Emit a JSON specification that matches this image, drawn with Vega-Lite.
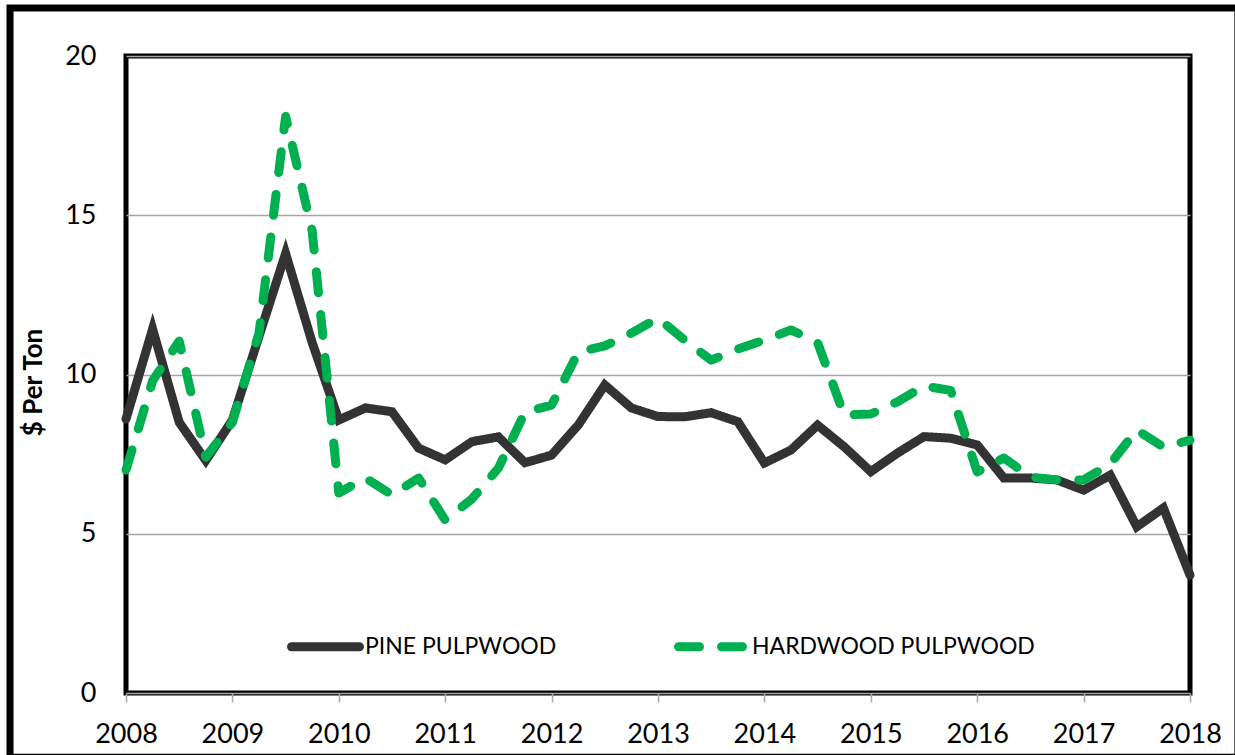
{
  "$schema": "https://vega.github.io/schema/vega-lite/v6.json",
  "autosize": "none",
  "width": 1064,
  "height": 637,
  "padding": {"left": 126, "top": 56, "right": 45, "bottom": 62},
  "background": "white",
  "config": {
    "view": {"stroke": "#000000", "strokeWidth": 5},
    "font": "Lato"
  },
  "layer": [
    {
      "data": {"values": [{}]},
      "mark": {"type": "rect", "fill": null, "stroke": "#000000", "strokeWidth": 7, "clip": false},
      "encoding": {
        "x": {"datum": 2006.91, "type": "quantitative"},
        "x2": {"datum": 2018.45},
        "y": {"datum": 21.51, "type": "quantitative"},
        "y2": {"datum": -2.02}
      }
    },
    {
      "data": {
        "values": [
          {"t": 2008.00, "series": "PINE PULPWOOD", "v": 8.6},
          {"t": 2008.25, "series": "PINE PULPWOOD", "v": 11.43},
          {"t": 2008.50, "series": "PINE PULPWOOD", "v": 8.5},
          {"t": 2008.75, "series": "PINE PULPWOOD", "v": 7.3},
          {"t": 2009.00, "series": "PINE PULPWOOD", "v": 8.57},
          {"t": 2009.25, "series": "PINE PULPWOOD", "v": 11.2},
          {"t": 2009.50, "series": "PINE PULPWOOD", "v": 13.8},
          {"t": 2009.75, "series": "PINE PULPWOOD", "v": 11.0},
          {"t": 2010.00, "series": "PINE PULPWOOD", "v": 8.57},
          {"t": 2010.25, "series": "PINE PULPWOOD", "v": 8.95},
          {"t": 2010.50, "series": "PINE PULPWOOD", "v": 8.83},
          {"t": 2010.75, "series": "PINE PULPWOOD", "v": 7.69},
          {"t": 2011.00, "series": "PINE PULPWOOD", "v": 7.32},
          {"t": 2011.25, "series": "PINE PULPWOOD", "v": 7.89},
          {"t": 2011.50, "series": "PINE PULPWOOD", "v": 8.04},
          {"t": 2011.75, "series": "PINE PULPWOOD", "v": 7.23},
          {"t": 2012.00, "series": "PINE PULPWOOD", "v": 7.47},
          {"t": 2012.25, "series": "PINE PULPWOOD", "v": 8.41},
          {"t": 2012.50, "series": "PINE PULPWOOD", "v": 9.67},
          {"t": 2012.75, "series": "PINE PULPWOOD", "v": 8.95},
          {"t": 2013.00, "series": "PINE PULPWOOD", "v": 8.68},
          {"t": 2013.25, "series": "PINE PULPWOOD", "v": 8.67},
          {"t": 2013.50, "series": "PINE PULPWOOD", "v": 8.8},
          {"t": 2013.75, "series": "PINE PULPWOOD", "v": 8.52},
          {"t": 2014.00, "series": "PINE PULPWOOD", "v": 7.22},
          {"t": 2014.25, "series": "PINE PULPWOOD", "v": 7.63},
          {"t": 2014.50, "series": "PINE PULPWOOD", "v": 8.41},
          {"t": 2014.75, "series": "PINE PULPWOOD", "v": 7.73},
          {"t": 2015.00, "series": "PINE PULPWOOD", "v": 6.95},
          {"t": 2015.25, "series": "PINE PULPWOOD", "v": 7.53},
          {"t": 2015.50, "series": "PINE PULPWOOD", "v": 8.05},
          {"t": 2015.75, "series": "PINE PULPWOOD", "v": 8.0},
          {"t": 2016.00, "series": "PINE PULPWOOD", "v": 7.79},
          {"t": 2016.25, "series": "PINE PULPWOOD", "v": 6.75},
          {"t": 2016.50, "series": "PINE PULPWOOD", "v": 6.75},
          {"t": 2016.75, "series": "PINE PULPWOOD", "v": 6.69},
          {"t": 2017.00, "series": "PINE PULPWOOD", "v": 6.37},
          {"t": 2017.25, "series": "PINE PULPWOOD", "v": 6.84},
          {"t": 2017.50, "series": "PINE PULPWOOD", "v": 5.22},
          {"t": 2017.75, "series": "PINE PULPWOOD", "v": 5.81},
          {"t": 2018.00, "series": "PINE PULPWOOD", "v": 3.7},
          {"t": 2008.00, "series": "HARDWOOD PULPWOOD", "v": 7.0},
          {"t": 2008.25, "series": "HARDWOOD PULPWOOD", "v": 9.8},
          {"t": 2008.50, "series": "HARDWOOD PULPWOOD", "v": 11.05},
          {"t": 2008.75, "series": "HARDWOOD PULPWOOD", "v": 7.4},
          {"t": 2009.00, "series": "HARDWOOD PULPWOOD", "v": 8.5},
          {"t": 2009.25, "series": "HARDWOOD PULPWOOD", "v": 11.3},
          {"t": 2009.50, "series": "HARDWOOD PULPWOOD", "v": 18.1},
          {"t": 2009.75, "series": "HARDWOOD PULPWOOD", "v": 14.5},
          {"t": 2010.00, "series": "HARDWOOD PULPWOOD", "v": 6.28},
          {"t": 2010.25, "series": "HARDWOOD PULPWOOD", "v": 6.75},
          {"t": 2010.50, "series": "HARDWOOD PULPWOOD", "v": 6.22},
          {"t": 2010.75, "series": "HARDWOOD PULPWOOD", "v": 6.75},
          {"t": 2011.00, "series": "HARDWOOD PULPWOOD", "v": 5.43},
          {"t": 2011.25, "series": "HARDWOOD PULPWOOD", "v": 6.09},
          {"t": 2011.50, "series": "HARDWOOD PULPWOOD", "v": 7.06},
          {"t": 2011.75, "series": "HARDWOOD PULPWOOD", "v": 8.82},
          {"t": 2012.00, "series": "HARDWOOD PULPWOOD", "v": 9.04},
          {"t": 2012.25, "series": "HARDWOOD PULPWOOD", "v": 10.7},
          {"t": 2012.50, "series": "HARDWOOD PULPWOOD", "v": 10.9},
          {"t": 2012.75, "series": "HARDWOOD PULPWOOD", "v": 11.3},
          {"t": 2013.00, "series": "HARDWOOD PULPWOOD", "v": 11.77},
          {"t": 2013.25, "series": "HARDWOOD PULPWOOD", "v": 11.08},
          {"t": 2013.50, "series": "HARDWOOD PULPWOOD", "v": 10.45},
          {"t": 2013.75, "series": "HARDWOOD PULPWOOD", "v": 10.8},
          {"t": 2014.00, "series": "HARDWOOD PULPWOOD", "v": 11.08},
          {"t": 2014.25, "series": "HARDWOOD PULPWOOD", "v": 11.4},
          {"t": 2014.50, "series": "HARDWOOD PULPWOOD", "v": 11.0},
          {"t": 2014.75, "series": "HARDWOOD PULPWOOD", "v": 8.73},
          {"t": 2015.00, "series": "HARDWOOD PULPWOOD", "v": 8.76},
          {"t": 2015.25, "series": "HARDWOOD PULPWOOD", "v": 9.14},
          {"t": 2015.50, "series": "HARDWOOD PULPWOOD", "v": 9.64},
          {"t": 2015.75, "series": "HARDWOOD PULPWOOD", "v": 9.5},
          {"t": 2016.00, "series": "HARDWOOD PULPWOOD", "v": 6.94},
          {"t": 2016.25, "series": "HARDWOOD PULPWOOD", "v": 7.38},
          {"t": 2016.50, "series": "HARDWOOD PULPWOOD", "v": 6.78},
          {"t": 2016.75, "series": "HARDWOOD PULPWOOD", "v": 6.69},
          {"t": 2017.00, "series": "HARDWOOD PULPWOOD", "v": 6.69},
          {"t": 2017.25, "series": "HARDWOOD PULPWOOD", "v": 7.19},
          {"t": 2017.50, "series": "HARDWOOD PULPWOOD", "v": 8.26},
          {"t": 2017.75, "series": "HARDWOOD PULPWOOD", "v": 7.72},
          {"t": 2018.00, "series": "HARDWOOD PULPWOOD", "v": 7.94}
        ]
      },
      "encoding": {
        "x": {
          "field": "t",
          "type": "quantitative",
          "scale": {"domain": [2008, 2018], "nice": false, "zero": false},
          "axis": {
            "title": null,
            "values": [2008, 2009, 2010, 2011, 2012, 2013, 2014, 2015, 2016, 2017, 2018],
            "format": "d",
            "grid": false,
            "domain": false,
            "ticks": true,
            "tickColor": "#A6A6A6",
            "tickWidth": 1.5,
            "tickSize": 9,
            "labelFont": "Lato",
            "labelFontSize": 27,
            "labelColor": "#000000",
            "labelPadding": 19,
            "labelFlush": false
          }
        },
        "y": {
          "field": "v",
          "type": "quantitative",
          "scale": {"domain": [0, 20], "nice": false},
          "axis": {
            "title": "$ Per Ton",
            "titleFont": "Lato",
            "titleFontWeight": "bold",
            "titleFontSize": 26,
            "titleColor": "#000000",
            "titleX": -80,
            "titleY": 326,
            "values": [0, 5, 10, 15, 20],
            "grid": true,
            "gridColor": "#A6A6A6",
            "gridWidth": 1.5,
            "domain": false,
            "ticks": false,
            "labelFont": "Lato",
            "labelFontSize": 27,
            "labelColor": "#000000",
            "labelPadding": 30
          }
        },
        "color": {
          "field": "series",
          "type": "nominal",
          "scale": {"domain": ["PINE PULPWOOD", "HARDWOOD PULPWOOD"], "range": ["#333333", "#00B050"]},
          "legend": {
            "title": null,
            "orient": "none",
            "legendX": 161,
            "legendY": 552,
            "direction": "horizontal",
            "columns": 2,
            "columnPadding": 103,
            "padding": 0,
            "symbolType": "stroke",
            "symbolSize": 4624,
            "symbolStrokeWidth": 9,
            "labelFont": "Lato",
            "labelFontSize": 23,
            "labelColor": "#000000",
            "labelOffset": 1,
            "labelLimit": 400,
            "encode": {"symbols": {"update": {"strokeCap": {"value": "round"}}}}
          }
        },
        "strokeDash": {
          "field": "series",
          "type": "nominal",
          "scale": {"domain": ["PINE PULPWOOD", "HARDWOOD PULPWOOD"], "range": [[1, 0], [21, 22]]},
          "legend": null
        }
      },
      "layer": [
        {
          "transform": [{"filter": "datum.series === 'PINE PULPWOOD'"}],
          "mark": {"type": "line", "strokeWidth": 9, "strokeCap": "round", "strokeJoin": "miter"}
        },
        {
          "transform": [{"filter": "datum.series === 'HARDWOOD PULPWOOD'"}],
          "mark": {"type": "line", "strokeWidth": 9, "strokeCap": "round", "strokeJoin": "round"}
        }
      ]
    }
  ]
}
